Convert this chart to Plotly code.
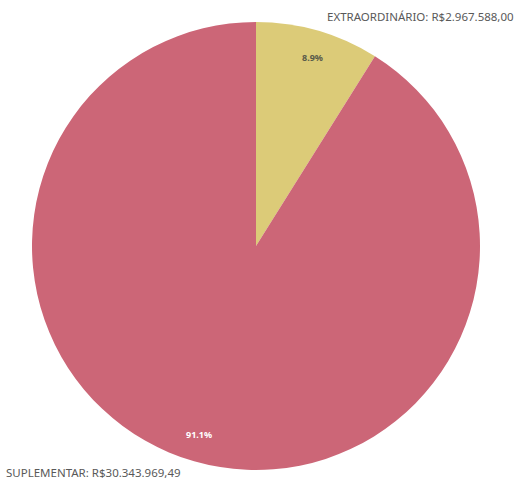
import math
import plotly.graph_objects as go

categories = ["EXTRAORDINÁRIO", "SUPLEMENTAR"]
values = [2967588.00, 30343969.49]
value_texts = ["R$2.967.588,00", "R$30.343.969,49"]
colors = ["#dccb78", "#cc6677"]
pct_colors = ["#5a5a4a", "#ffffff"]

W, H = 515, 479
margin = dict(l=32, r=35, t=22, b=9)

fig = go.Figure(go.Pie(
    labels=categories,
    values=values,
    sort=False,
    direction="clockwise",
    rotation=0,
    textinfo="none",
    hoverinfo="label+value+percent",
    marker=dict(colors=colors, line=dict(width=0)),
    showlegend=False,
))

# percentage labels placed near the rim of each slice
total = sum(values)
pw = W - margin["l"] - margin["r"]
ph = H - margin["t"] - margin["b"]
cum = 0.0
annotations = []
for v, c in zip(values, pct_colors):
    frac = v / total
    mid = (cum + frac / 2) * 2 * math.pi
    cum += frac
    r = 0.915 * 0.5
    x = 0.5 + r * math.sin(mid) * min(pw, ph) / pw
    y = 0.5 + r * math.cos(mid) * min(pw, ph) / ph
    annotations.append(dict(
        x=x, y=y, xref="paper", yref="paper", showarrow=False,
        text=f"<b>{frac * 100:.1f}%</b>", font=dict(size=9, color=c),
    ))

annotations.append(dict(
    x=1, y=1, xref="paper", yref="paper", xanchor="right", yanchor="bottom",
    xshift=36, yshift=-4, showarrow=False,
    text=f"{categories[0]}: {value_texts[0]}", font=dict(size=11.5, color="#595959"),
))
annotations.append(dict(
    x=0, y=0, xref="paper", yref="paper", xanchor="left", yanchor="bottom",
    xshift=-28, yshift=-12, showarrow=False,
    text=f"{categories[1]}: {value_texts[1]}", font=dict(size=11.5, color="#595959"),
))

fig.update_layout(
    width=W, height=H,
    margin=margin,
    paper_bgcolor="white",
    plot_bgcolor="white",
    font=dict(family="Noto Sans, sans-serif"),
    annotations=annotations,
)

fig.write_html("out.html")
